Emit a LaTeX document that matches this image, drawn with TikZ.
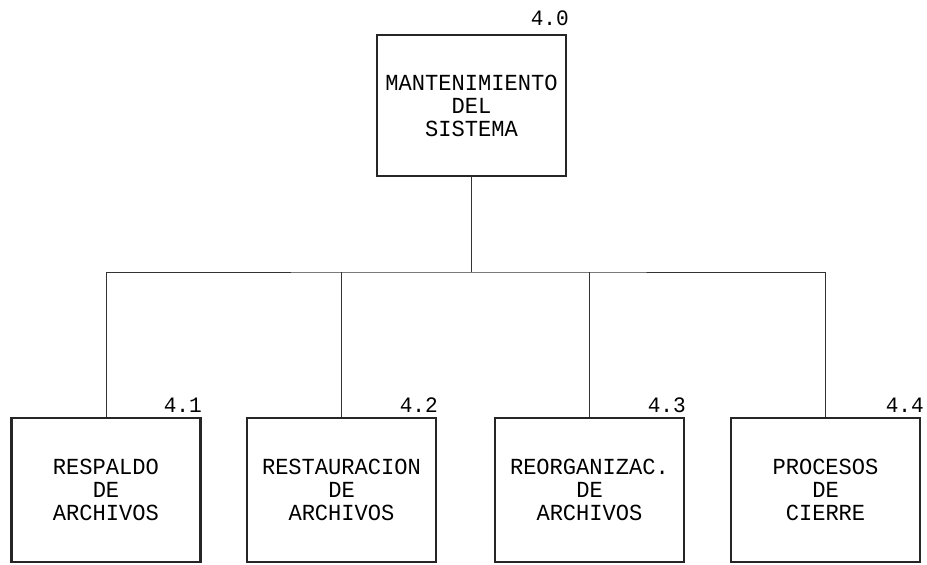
\documentclass[tikz,border=0pt]{standalone}
\usepackage{fontspec}
\newfontfamily\dotfont{Liberation Mono}[FakeStretch=0.96]
\begin{document}
\begin{tikzpicture}[x=1pt,y=-1pt,
  proc/.style={draw=black!85, line width=2.6pt, minimum width=189pt, inner sep=0pt,
    align=center, font=\dotfont\fontsize{23}{23}\selectfont},
  numlbl/.style={anchor=base east, inner sep=0pt, font=\dotfont\fontsize{22}{22}\selectfont},
  conn/.style={draw=black!80, line width=1pt}]
\useasboundingbox (0,0) rectangle (927,565);
\node[proc, minimum height=141pt] (top) at (471.5,105.5) {MANTENIMIENTO\\DEL\\SISTEMA};
\node[proc, minimum height=144pt] (b1) at (106,490) {RESPALDO\\DE\\ARCHIVOS};
\node[proc, minimum height=144pt] (b2) at (341.5,490) {RESTAURACION\\DE\\ARCHIVOS};
\node[proc, minimum height=144pt] (b3) at (589.5,490) {REORGANIZAC.\\DE\\ARCHIVOS};
\node[proc, minimum height=144pt] (b4) at (825.5,490) {PROCESOS\\DE\\CIERRE};
\node[numlbl] (n0) at (569,25) {4.0};
\node[numlbl] (n1) at (202,412) {4.1};
\node[numlbl] (n2) at (438,412) {4.2};
\node[numlbl] (n3) at (686,412) {4.3};
\node[numlbl] (n4) at (924,412) {4.4};
\coordinate (bus) at (471.5,272);
\draw[conn] (top.south) -- (bus);
\draw[conn] (b1.north) |- (bus) -| (b4.north);
\draw[conn] (b2.north) -- (b2.north |- bus);
\draw[conn] (b3.north) -- (b3.north |- bus);
\end{tikzpicture}
\end{document}
